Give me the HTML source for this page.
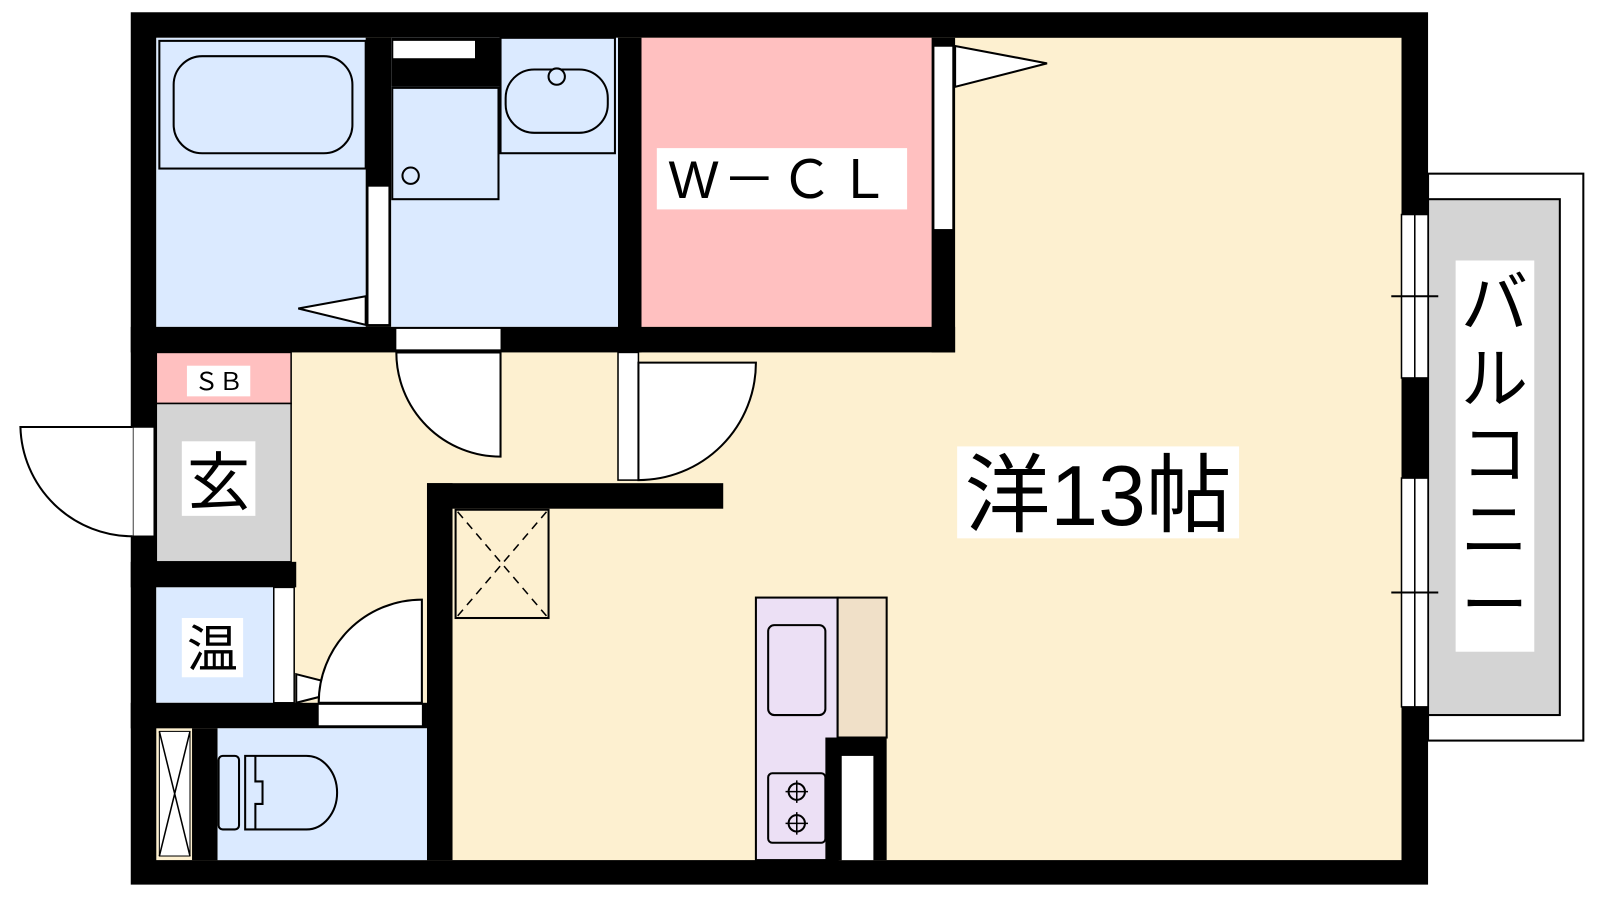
<!DOCTYPE html>
<html><head><meta charset="utf-8"><style>
html,body{margin:0;padding:0;background:#fff;width:1600px;height:900px;overflow:hidden}
text{font-family:"Liberation Sans","Noto Sans CJK JP",sans-serif;fill:#000}
</style></head><body>
<svg width="1600" height="900" viewBox="0 0 1600 900" xmlns="http://www.w3.org/2000/svg">
<g transform="scale(1.0215)">
<!-- balcony -->
<rect x="1398" y="170" width="152" height="555" fill="#fff" stroke="#000" stroke-width="2"/>
<rect x="1398" y="195" width="129" height="505" fill="#d4d4d4" stroke="#000" stroke-width="2"/>
<!-- outer wall -->
<rect x="128" y="12" width="1270" height="854" fill="#000"/>
<!-- interior cream -->
<rect x="153" y="37" width="1219" height="805" fill="#fdf0d0"/>
<!-- bathroom -->
<rect x="153" y="37" width="205" height="283" fill="#dbeaff"/>
<rect x="156" y="40" width="202" height="125" fill="none" stroke="#000" stroke-width="2"/>
<rect x="170" y="55" width="175" height="95" rx="28" fill="none" stroke="#000" stroke-width="2"/>
<!-- wall bath/wash -->
<rect x="358" y="37" width="25" height="283" fill="#000"/>
<rect x="360" y="182" width="21" height="136" fill="#fff" stroke="#000" stroke-width="1.5"/>
<polygon points="358,290 292,302 358,318" fill="#fff" stroke="#000" stroke-width="2"/>
<!-- washroom -->
<rect x="383" y="37" width="222" height="283" fill="#dbeaff"/>
<rect x="383" y="37" width="107" height="48" fill="#000"/>
<rect x="385" y="40" width="80" height="17" fill="#fff"/>
<rect x="384" y="86" width="104" height="109" fill="none" stroke="#000" stroke-width="2"/>
<circle cx="402" cy="172" r="8" fill="none" stroke="#000" stroke-width="2"/>
<rect x="490" y="37" width="112" height="113" fill="none" stroke="#000" stroke-width="2"/>
<rect x="495" y="68" width="100" height="62" rx="28" fill="none" stroke="#000" stroke-width="2"/>
<circle cx="545" cy="75" r="8" fill="#dbeaff" stroke="#000" stroke-width="2"/>
<!-- wall wash/WCL -->
<rect x="605" y="37" width="23" height="308" fill="#000"/>
<!-- WCL -->
<rect x="628" y="37" width="284" height="283" fill="#ffc0c0"/>
<rect x="643" y="145" width="245" height="60" fill="#fff"/>
<text x="765" y="194" font-size="52" text-anchor="middle" letter-spacing="4">W－ＣＬ</text>
<rect x="912" y="37" width="23" height="308" fill="#000"/>
<rect x="914" y="45" width="19" height="180" fill="#fff" stroke="#000" stroke-width="1.5"/>
<polygon points="935,45 1025,62 935,85" fill="#fff" stroke="#000" stroke-width="2"/>
<!-- horizontal wall below bath/wash/WCL -->
<rect x="128" y="320" width="807" height="25" fill="#000"/>
<rect x="388" y="322" width="102" height="20" fill="#fff"/>
<!-- bath door swing -->
<path d="M490,345 L388,345 A102,102 0 0 0 490,447 Z" fill="#fff" stroke="#000" stroke-width="2"/>
<!-- WCL door -->
<rect x="605" y="345" width="20" height="125" fill="#fff" stroke="#000" stroke-width="1.5"/>
<path d="M625,355 L740,355 A115,115 0 0 1 625,470 Z" fill="#fff" stroke="#000" stroke-width="2"/>
<!-- SB -->
<rect x="153" y="345" width="132" height="50" fill="#ffc0c0" stroke="#000" stroke-width="1.5"/>
<rect x="183" y="358" width="62" height="30" fill="#fff"/>
<text x="214" y="382" font-size="24" text-anchor="middle">ＳＢ</text>
<!-- genkan -->
<rect x="153" y="395" width="132" height="155" fill="#d4d4d4" stroke="#000" stroke-width="1.5"/>
<rect x="178" y="432" width="72" height="73" fill="#fff"/>
<text x="214" y="494" font-size="62" text-anchor="middle">玄</text>
<!-- entry door -->
<rect x="130" y="418" width="21" height="107" fill="#fff" stroke="#000" stroke-width="1.5"/>
<path d="M130,418 L20,418 A110,110 0 0 0 130,525" fill="#fff" stroke="#000" stroke-width="2"/>
<!-- wall below genkan -->
<rect x="128" y="550" width="162" height="25" fill="#000"/>
<!-- onsui -->
<rect x="153" y="575" width="115" height="113" fill="#dbeaff"/>
<rect x="268" y="575" width="20" height="113" fill="#fff" stroke="#000" stroke-width="1.5"/>
<rect x="178" y="605" width="60" height="58" fill="#fff"/>
<text x="208" y="653" font-size="50" text-anchor="middle">温</text>
<polygon points="290,660 345,674 290,688" fill="#fff" stroke="#000" stroke-width="2"/>
<!-- toilet door -->
<path d="M413,688 L413,587 A101,101 0 0 0 312,688 Z" fill="#fff" stroke="#000" stroke-width="2"/>
<rect x="128" y="688" width="290" height="25" fill="#000"/>
<rect x="312" y="690" width="101" height="20" fill="#fff"/>
<!-- toilet room -->
<rect x="188" y="713" width="25" height="129" fill="#000"/>
<rect x="213" y="713" width="205" height="129" fill="#dbeaff"/>
<rect x="156" y="716" width="30" height="122" fill="#fff" stroke="#000" stroke-width="1"/>
<path d="M156,716 L186,838 M186,716 L156,838" stroke="#000" stroke-width="1.5"/>
<rect x="214" y="740" width="20" height="72" rx="4" fill="none" stroke="#000" stroke-width="2"/>
<path d="M240,740 H300 A30,36 0 0 1 300,812 H240 Z" fill="none" stroke="#000" stroke-width="2"/>
<path d="M250,740 V765 H257 V787 H250 V812" fill="none" stroke="#000" stroke-width="2"/>
<!-- inner walls -->
<rect x="418" y="473" width="25" height="369" fill="#000"/>
<rect x="418" y="473" width="290" height="25" fill="#000"/>
<rect x="446" y="499" width="91" height="106" fill="none" stroke="#000" stroke-width="2"/>
<path d="M448,501 L535,603 M535,501 L448,603" stroke="#000" stroke-width="1.5" stroke-dasharray="8,6"/>
<!-- kitchen -->
<rect x="740" y="585" width="80" height="257" fill="#ece0f5" stroke="#000" stroke-width="2"/>
<rect x="820" y="585" width="48" height="137" fill="#f0e0c8" stroke="#000" stroke-width="2"/>
<rect x="808" y="722" width="60" height="120" fill="#000"/>
<rect x="824" y="740" width="31" height="102" fill="#fff"/>
<rect x="752" y="612" width="56" height="88" rx="6" fill="none" stroke="#000" stroke-width="2"/>
<rect x="752" y="757" width="56" height="68" rx="4" fill="none" stroke="#000" stroke-width="2"/>
<circle cx="780" cy="775" r="8" fill="none" stroke="#000" stroke-width="2"/>
<circle cx="780" cy="806" r="8" fill="none" stroke="#000" stroke-width="2"/>
<path d="M780,764 v22 M769,775 h22 M780,795 v22 M769,806 h22" stroke="#000" stroke-width="1.5"/>
<!-- main label -->
<rect x="937" y="437" width="276" height="90" fill="#fff"/>
<text x="1075" y="514" font-size="84" text-anchor="middle">洋13帖</text>
<!-- balcony windows -->
<rect x="1372" y="210" width="26" height="160" fill="#fff" stroke="#000" stroke-width="1.5"/>
<rect x="1372" y="468" width="26" height="224" fill="#fff" stroke="#000" stroke-width="1.5"/>
<path d="M1385,210 V370 M1385,468 V692" stroke="#000" stroke-width="1.5"/>
<path d="M1362,290 H1408 M1362,580 H1408" stroke="#000" stroke-width="2"/>
<rect x="1425" y="255" width="77" height="383" fill="#fff"/>
<text font-size="66" text-anchor="middle">
<tspan x="1463" y="320">バ</tspan><tspan x="1463" y="394">ル</tspan><tspan x="1463" y="468">コ</tspan><tspan x="1463" y="542">ニ</tspan><tspan x="1463" y="616">ー</tspan>
</text>
</g>
</svg>
</body></html>
